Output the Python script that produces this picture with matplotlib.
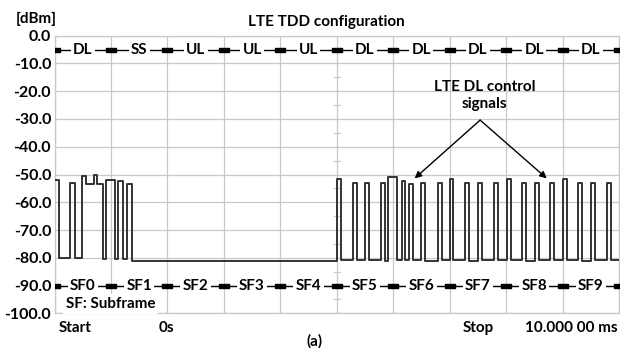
import matplotlib
matplotlib.use("Agg")
import matplotlib.pyplot as plt

# zero-span trace: pulses (ms) and their top level (dBm)
pulse_start = [0.00, 0.28, 0.49, 0.56, 0.70, 0.76, 0.91, 1.12, 1.28,
               5.00, 5.29, 5.50, 5.79, 5.91, 6.15, 6.28, 6.50, 6.80,
               7.00, 7.28, 7.51, 7.79, 8.01, 8.29, 8.51, 8.78,
               9.01, 9.28, 9.50, 9.78]
pulse_end = [0.085, 0.36, 0.56, 0.70, 0.76, 0.86, 1.07, 1.21, 1.37,
             5.07, 5.36, 5.57, 5.85, 6.07, 6.21, 6.35, 6.56, 6.86,
             7.06, 7.35, 7.58, 7.86, 8.08, 8.36, 8.58, 8.85,
             9.08, 9.35, 9.57, 9.85]
pulse_top = [-52.0, -53.0, -50.5, -53.5, -50.0, -53.5, -52.0, -52.5, -53.5,
             -51.5, -53.0, -53.0, -53.0, -51.0, -52.5, -53.5, -53.0, -53.0,
             -51.5, -53.0, -53.0, -53.0, -51.5, -53.0, -53.0, -53.0,
             -51.5, -53.0, -53.0, -53.0]
# floor level after each pulse (None = pulse continues straight into the next)
floor_after = [-80.0, -80.0, None, None, None, -80.5, -80.5, -80.5, -81.3,
               -80.8, -80.8, -80.8, -81.0, -80.8, -80.8, -80.8, -81.0, -80.8,
               -80.8, -81.0, -80.8, -80.8, -80.8, -81.0, -80.8, -80.8,
               -80.8, -81.0, -80.8, -80.8]

top_labels = ["DL", "SS", "UL", "UL", "UL", "DL", "DL", "DL", "DL", "DL"]
sf_labels = ["SF0", "SF1", "SF2", "SF3", "SF4", "SF5", "SF6", "SF7", "SF8", "SF9"]
y_ticks = [0, -10, -20, -30, -40, -50, -60, -70, -80, -90, -100]

plt.rcParams['font.family'] = ['Lato', 'DejaVu Sans']
plt.rcParams['font.weight'] = 'bold'
FS = 11

# build step trace
tx, ty = [], []
for i in range(len(pulse_start)):
    tx += [pulse_start[i], pulse_end[i]]
    ty += [pulse_top[i], pulse_top[i]]
    if floor_after[i] is not None:
        nxt = pulse_start[i + 1] if i + 1 < len(pulse_start) else 10.0
        tx += [pulse_end[i], nxt]
        ty += [floor_after[i], floor_after[i]]

fig = plt.figure(figsize=(6.2, 3.48), dpi=100)
ax = fig.add_axes([54.5 / 620, 1 - 313.3 / 348, (619 - 54.5) / 620, (313.3 - 35.7) / 348])

ax.set_xlim(0, 10)
ax.set_ylim(-100, 0)
ax.set_xticks(range(0, 11))
ax.set_xticklabels([])
ax.set_yticks(y_ticks)
ax.set_yticklabels(["%.1f" % v for v in y_ticks], fontsize=11.5, fontweight='bold')
ax.tick_params(length=0, pad=2.5)
ax.grid(True, color='#c8c8c8', lw=0.9)
ax.set_axisbelow(True)
for s in ax.spines.values():
    s.set_color('#c8c8c8')
    s.set_linewidth(0.9)

# small ticks on the centre line
for v in range(-95, 0, 10):
    ax.plot([4.95, 5.05], [v, v], color='#c8c8c8', lw=0.9, zorder=1)

ax.plot(tx, ty, color='#333333', lw=1.4, zorder=3)

# frame rows
mk = [(-2.25, -1), (2.25, -1), (2.25, 1), (-2.25, 1), (-2.25, -1)]
for yrow, labels in [(-5, top_labels), (-90, sf_labels)]:
    ax.plot(range(0, 11), [yrow] * 11, color='black', lw=1, marker=mk,
            markersize=6.5, markerfacecolor='black', zorder=4)
    for i, lab in enumerate(labels):
        ax.text(i + 0.5, yrow, lab, ha='center', va='center', fontsize=FS,
                fontweight='bold', zorder=5,
                bbox=dict(boxstyle='square,pad=0.15', fc='white', ec='none'))

ax.text(0.2, -96.8, "SF: Subframe", ha='left', va='center', fontsize=FS,
        fontweight='bold', zorder=5,
        bbox=dict(boxstyle='square,pad=0.2', fc='white', ec='none'))

ax.text(7.62, -21.5, "LTE DL control\nsignals", ha='center', va='center',
        fontsize=FS, fontweight='bold', linespacing=1.3, zorder=5)
for tip in [(6.38, -51.4), (8.72, -51.4)]:
    ax.annotate("", xy=tip, xytext=(7.54, -30.4),
                arrowprops=dict(arrowstyle='-|>', color='black', lw=1,
                                mutation_scale=10, shrinkA=0, shrinkB=0),
                zorder=5)

fig.text(326.5 / 620, 1 - 22 / 348, "LTE TDD configuration", ha='center',
         va='center', fontsize=FS, fontweight='bold')
fig.text(16 / 620, 1 - 19 / 348, "[dBm]", ha='left', va='center',
         fontsize=FS, fontweight='bold')
fig.text(59 / 620, 1 - 328 / 348, "Start", ha='left', va='center',
         fontsize=FS, fontweight='bold')
fig.text(159 / 620, 1 - 328 / 348, "0s", ha='left', va='center',
         fontsize=FS, fontweight='bold')
fig.text(463 / 620, 1 - 328 / 348, "Stop", ha='left', va='center',
         fontsize=FS, fontweight='bold')
fig.text(618 / 620, 1 - 328 / 348, "10.000 00 ms", ha='right', va='center',
         fontsize=FS, fontweight='bold')
fig.text(314.5 / 620, 1 - 341 / 348, "(a)", ha='center', va='center',
         fontsize=FS, fontweight='bold')

fig.savefig("out.png", dpi=100)
